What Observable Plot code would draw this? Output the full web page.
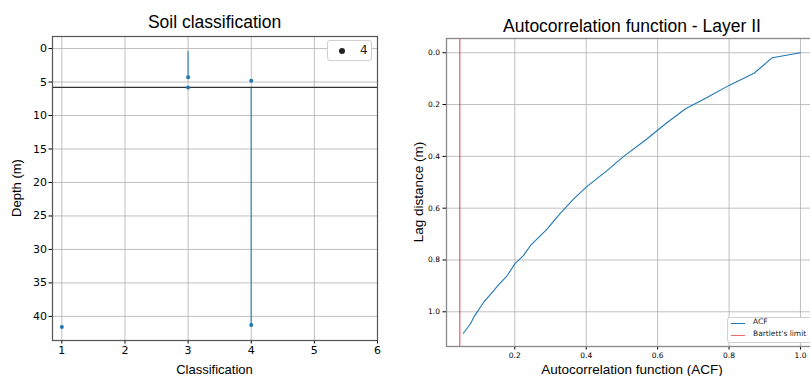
<!DOCTYPE html>
<html><head><meta charset="utf-8">
<script src="https://cdn.jsdelivr.net/npm/d3@7"></script>
<script src="https://cdn.jsdelivr.net/npm/@observablehq/plot@0.6"></script>
<style>
html,body{margin:0;padding:0;background:#fff;}
body{width:810px;height:376px;overflow:hidden;font-family:"Liberation Sans",Arial,sans-serif;}
#wrap{position:relative;width:810px;height:376px;overflow:hidden;}
.panel{position:absolute;top:0;}
.lbl{position:absolute;white-space:nowrap;color:#000;transform:translate(-50%,-50%);}
.vlbl{position:absolute;white-space:nowrap;color:#000;transform:translate(-50%,-50%) rotate(-90deg);}
.legend{position:absolute;background:#fff;border:1px solid #d0d0d0;border-radius:3px;box-sizing:border-box;font-family:"DejaVu Sans",sans-serif;}
</style></head>
<body><div id="wrap"></div>
<script>
// ---- Left panel data: soil classification ----
const classPtX = [3, 3, 4, 1, 4];
const classPtDepth = [4.3, 5.8, 4.8, 41.6, 41.3];
const segClass = [3, 4];
const segTop = [0.45, 5.8];
const segBottom = [4.3, 41.3];
const boundaryDepth = [5.8];
const classTicks = [1, 2, 3, 4, 5, 6];
const depthTicks = [0, 5, 10, 15, 20, 25, 30, 35, 40];
const legendClass = ["4"];

// ---- Right panel data: autocorrelation function ----
const lagValues = [0.000, 0.019, 0.079, 0.126, 0.174, 0.216, 0.272, 0.335, 0.400, 0.454, 0.519, 0.564, 0.619, 0.683, 0.744, 0.783, 0.815, 0.860, 0.898, 0.918, 0.963, 1.008, 1.021, 1.046, 1.083];
const acfValues = [1.000, 0.921, 0.870, 0.800, 0.737, 0.678, 0.624, 0.568, 0.505, 0.459, 0.400, 0.365, 0.328, 0.289, 0.244, 0.224, 0.200, 0.179, 0.153, 0.141, 0.113, 0.091, 0.085, 0.076, 0.056];
const bartlettLimit = [0.046];
const acfTicks = [0.2, 0.4, 0.6, 0.8, 1.0];
const lagTicks = [0.0, 0.2, 0.4, 0.6, 0.8, 1.0];

const wrap = document.getElementById("wrap");
const blue = "#1f77b4";
const tickFont = "DejaVu Sans, sans-serif";
const gridStyle = {stroke: "#b0b0b0", strokeOpacity: 1, strokeWidth: 0.8};

const points = classPtX.map((c, i) => ({c, d: classPtDepth[i]}));
const segs = segClass.map((c, i) => ({c, d1: segTop[i], d2: segBottom[i]}));

const left = Plot.plot({
  width: 400, height: 376,
  marginLeft: 52, marginRight: 23, marginTop: 36, marginBottom: 36,
  style: {fontFamily: tickFont, background: "transparent", color: "#000"},
  x: {domain: [0.852, 6]},
  y: {domain: [-1.8, 43.6], reverse: true},
  marks: [
    Plot.gridX(classTicks, gridStyle),
    Plot.gridY(depthTicks, gridStyle),
    Plot.ruleX(segs, {x: "c", y1: "d1", y2: "d2", stroke: blue, strokeOpacity: 0.65, strokeWidth: 1.6}),
    Plot.ruleY(boundaryDepth, {stroke: "#333", strokeWidth: 1.3}),
    Plot.dot(points, {x: "c", y: "d", r: 2, fill: blue, stroke: "none"}),
    Plot.axisX({ticks: classTicks, tickSize: 3.5, tickPadding: 2, fontSize: 11, label: null, tickFormat: d3.format("d")}),
    Plot.axisY({ticks: depthTicks, tickSize: 3.5, tickPadding: 2, fontSize: 11, label: null, tickFormat: d3.format("d")}),
    Plot.frame({stroke: "#555", strokeWidth: 1.2})
  ]
});
left.classList.add("panel");
left.style.left = "0px";
wrap.appendChild(left);

const acf = lagValues.map((l, i) => ({lag: l, acf: acfValues[i]}));
const right = Plot.plot({
  width: 440, height: 376,
  marginLeft: 46, marginRight: 23, marginTop: 38, marginBottom: 30,
  style: {fontFamily: tickFont, background: "transparent", color: "#000"},
  x: {domain: [0.0087, 1.0477]},
  y: {domain: [-0.055, 1.134], reverse: true},
  marks: [
    Plot.gridX(acfTicks, gridStyle),
    Plot.gridY(lagTicks, gridStyle),
    Plot.line(acf, {x: "acf", y: "lag", stroke: blue, strokeWidth: 1.1}),
    Plot.ruleX(bartlettLimit, {stroke: "#ff0000", strokeOpacity: 0.8, strokeWidth: 1}),
    Plot.axisX({ticks: acfTicks, tickSize: 3.5, tickPadding: 3, fontSize: 7.5, label: null, tickFormat: d3.format(".1f")}),
    Plot.axisY({ticks: lagTicks, tickSize: 3.5, tickPadding: 3, fontSize: 7.5, label: null, tickFormat: d3.format(".1f")}),
    Plot.frame({stroke: "#888", strokeWidth: 1.3})
  ]
});
right.classList.add("panel");
right.style.left = "400px";
wrap.appendChild(right);

function addLabel(text, x, y, size, vertical) {
  const d = document.createElement("div");
  d.className = vertical ? "vlbl" : "lbl";
  d.textContent = text;
  d.style.left = x + "px";
  d.style.top = y + "px";
  d.style.fontSize = size + "px";
  wrap.appendChild(d);
}
addLabel("Soil classification", 214.5, 22, 17.5);
addLabel("Classification", 214.5, 369, 13);
addLabel("Depth (m)", 16, 188, 13, true);
addLabel("Autocorrelation function - Layer II", 632, 26, 17.5);
addLabel("Autocorrelation function (ACF)", 632, 369, 13.5);
addLabel("Lag distance (m)", 418, 192, 13.5, true);

// Left legend
const lg = document.createElement("div");
lg.className = "legend";
lg.style.left = "327px"; lg.style.top = "40px"; lg.style.width = "45px"; lg.style.height = "21px";
lg.innerHTML = `<span style="position:absolute;left:11px;top:7px;width:6px;height:6px;border-radius:50%;background:#222"></span><span style="position:absolute;left:32px;top:2px;font-size:12px;color:#222">${legendClass[0]}</span>`;
wrap.appendChild(lg);

// Right legend
const rg = document.createElement("div");
rg.className = "legend";
rg.style.left = "727px"; rg.style.top = "317px"; rg.style.width = "90px"; rg.style.height = "26px";
rg.innerHTML = `<span style="position:absolute;left:3px;top:5px;width:14px;height:0;border-top:1px solid ${blue}"></span>
<span style="position:absolute;left:25px;top:-1px;font-size:7.5px;color:#222">ACF</span>
<span style="position:absolute;left:3px;top:17px;width:14px;height:0;border-top:1px solid #f06a6a"></span>
<span style="position:absolute;left:25px;top:11px;font-size:7.5px;color:#222">Bartlett's limit</span>`;
wrap.appendChild(rg);
</script>
</body></html>
